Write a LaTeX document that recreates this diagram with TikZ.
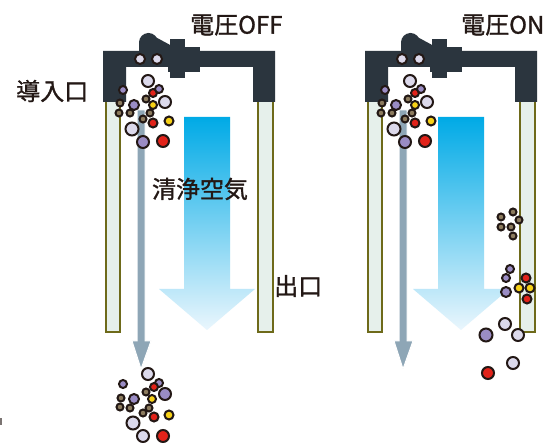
\documentclass[tikz,border=0pt]{standalone}
\usepackage{fontspec}
\newfontfamily\jp[FakeBold=1.2]{Noto Sans CJK JP}
\definecolor{framecol}{HTML}{2B353E}
\definecolor{tubefill}{HTML}{E6F0EB}
\definecolor{tubeline}{HTML}{6E6A1A}
\definecolor{ventcol}{HTML}{8EA6B6}
\definecolor{inkcol}{HTML}{231815}
\definecolor{blueTop}{HTML}{00AAE6}
\definecolor{blueBot}{HTML}{EAF6FD}
\definecolor{plight}{HTML}{DCD9EB}
\definecolor{ppurple}{HTML}{9A8CC4}
\definecolor{pred}{HTML}{E2231A}
\definecolor{pyellow}{HTML}{F7D117}
\definecolor{pbrown}{HTML}{8C7B5E}
\tikzset{
  framefill/.style={fill=framecol},
  tube/.style={fill=tubefill, draw=tubeline, line width=2pt},
  vent/.style={fill=ventcol, draw=white, line width=1pt},
  cleanair/.style={top color=blueTop, bottom color=blueBot},
  label/.style={font=\jp\fontsize{24}{24}\selectfont, text=inkcol, inner sep=0pt},
  pt/.style={draw=inkcol, line width=2pt},
  pl/.style={pt, fill=plight},
  pp/.style={pt, fill=ppurple},
  pr/.style={pt, fill=pred},
  py/.style={pt, fill=pyellow},
  pb/.style={pt, fill=pbrown},
}
% one collector unit: tubes, vent arrow, frame with the electrode knob
\newcommand{\collector}{%
  \draw[tube] (106,100) rectangle (120,332);
  \draw[tube] (258,100) rectangle (273,332);
  \path[vent] (137,110) -- (145,110) -- (145,341) -- (151,341) -- (141,369)
     -- (132,341) -- (137,341) -- cycle;
  \fill[framefill] (103,51) -- (275,51) -- (275,102) -- (253,102) -- (253,67)
     -- (126,67) -- (126,102) -- (103,102) -- cycle;
  \fill[framefill] (168,47) rectangle (200,72);
  \fill[framefill] (170,39) rectangle (185,78);
  \fill[framefill] (148.5,42.5) circle[radius=9.5pt];
  \fill[framefill] (139,42) -- (148,33) -- (172,46) -- (172,53) -- (139,53) -- cycle;
  \draw[pl] (140,59) circle[radius=5pt];
  \draw[pl] (157,59) circle[radius=5pt];
}
% particles entering through the inlet
\newcommand{\inlet}{%
  \draw[pl] (148,81) circle[radius=6pt];
  \draw[pp] (123,90) circle[radius=4pt];
  \draw[pr] (153,93) circle[radius=4pt];
  \draw[pp] (159,89) circle[radius=4pt];
  \draw[pb] (146,99) circle[radius=3.5pt];
  \draw[pb] (120,103) circle[radius=3.5pt];
  \draw[pp] (134,105) circle[radius=5pt];
  \draw[py] (153,105) circle[radius=4pt];
  \draw[pl] (165,102) circle[radius=6pt];
  \draw[pb] (119,113) circle[radius=3.5pt];
  \draw[pb] (130,113) circle[radius=3.5pt];
  \draw[pb] (150,113) circle[radius=3.5pt];
  \draw[pb] (143,119) circle[radius=3.5pt];
  \draw[pr] (153,123) circle[radius=4.5pt];
  \draw[py] (169,121) circle[radius=4.5pt];
  \draw[pl] (132,129) circle[radius=6.5pt];
  \draw[pp] (143,142) circle[radius=6pt];
  \draw[pr] (163,141) circle[radius=6pt];
}
\begin{document}
\begin{tikzpicture}[x=1pt,y=-1pt]
  \useasboundingbox (0,0) rectangle (560,443);
  \fill[white] (0,0) rectangle (560,443);

  % ---- voltage off ----
  \collector
  \path[cleanair] (184,117) -- (230,117) -- (230,289) -- (255,289) -- (207,330)
     -- (159,289) -- (184,289) -- cycle;
  \inlet
  \node[label, anchor=west] (off) at (190,25) {電圧OFF};
  \node[label, anchor=west] (inletlbl) at (16,91) {導入口};
  \node[label] (air) at (200,189) {清浄空気};
  \node[label, anchor=west] (outlet) at (274,286) {出口};
  % particles passing straight through
  \draw[pl] (148,374) circle[radius=6pt];
  \draw[pp] (123,384) circle[radius=4pt];
  \draw[pp] (159,383) circle[radius=4pt];
  \draw[pr] (154,387) circle[radius=4pt];
  \draw[pb] (146,392) circle[radius=3.5pt];
  \draw[pp] (165,394) circle[radius=6pt];
  \draw[pb] (121,398) circle[radius=3.5pt];
  \draw[pp] (134,399) circle[radius=5pt];
  \draw[py] (152,399) circle[radius=4pt];
  \draw[pb] (120,407) circle[radius=3.5pt];
  \draw[pb] (130,408) circle[radius=3.5pt];
  \draw[pb] (149,408) circle[radius=3.5pt];
  \draw[pb] (143,413) circle[radius=3.5pt];
  \draw[pr] (154,417) circle[radius=4.5pt];
  \draw[py] (169,415) circle[radius=4.5pt];
  \draw[pl] (133,423) circle[radius=6.5pt];
  \draw[pl] (143,436) circle[radius=6pt];
  \draw[pr] (163,436) circle[radius=6pt];
  % edge sliver
  \fill[inkcol!60] (0,418) rectangle (1.5,425);

  % ---- voltage on ----
  \begin{scope}[xshift=262pt]
    \collector
  \end{scope}
  \path[cleanair] (438,117) -- (484,117) -- (484,289) -- (509,289) -- (461,330)
     -- (413,289) -- (438,289) -- cycle;
  \begin{scope}[xshift=262pt]
    \inlet
  \end{scope}
  \node[label, anchor=west] (on) at (461,25) {電圧ON};
  % particles caught on the collector wall
  \draw[pb] (501,217) circle[radius=3.5pt];
  \draw[pb] (513,212) circle[radius=3.5pt];
  \draw[pb] (519,220) circle[radius=3.5pt];
  \draw[pb] (501,227) circle[radius=3.5pt];
  \draw[pb] (511,227) circle[radius=3.5pt];
  \draw[pb] (513,236) circle[radius=3.5pt];
  \draw[pp] (510,269) circle[radius=4pt];
  \draw[pp] (506,278) circle[radius=4pt];
  \draw[pr] (526,278) circle[radius=4.5pt];
  \draw[py] (519,288) circle[radius=4.5pt];
  \draw[py] (530,288) circle[radius=4.5pt];
  \draw[pp] (506,292) circle[radius=5pt];
  \draw[pr] (527,299) circle[radius=4.5pt];
  \draw[pl] (505,324) circle[radius=6pt];
  \draw[pp] (486,335) circle[radius=6.5pt];
  \draw[pl] (518,335) circle[radius=6pt];
  \draw[pl] (513,363) circle[radius=6pt];
  \draw[pr] (488,373) circle[radius=6pt];
\end{tikzpicture}
\end{document}
